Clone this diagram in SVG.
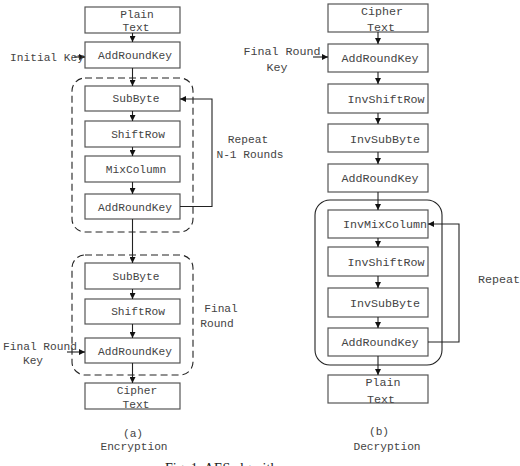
<svg xmlns="http://www.w3.org/2000/svg" width="520" height="466" viewBox="0 0 520 466">
<style>
.box{fill:#fff;stroke:#555;stroke-width:1.2}
.t{font-family:"Liberation Mono","Courier New",monospace;font-size:11.2px;fill:#444;text-anchor:middle}
.tr{font-size:11.7px}
.l{fill:none;stroke:#222;stroke-width:1.1}
.grp{fill:none;stroke:#222;stroke-width:1.1}
</style>
<defs>
<marker id="ah" viewBox="0 0 10 10" refX="10" refY="5" markerWidth="6" markerHeight="6" orient="auto" markerUnits="userSpaceOnUse">
<path d="M0,0 L10,5 L0,10 z" fill="#111"/>
</marker>
</defs>
<rect width="520" height="466" fill="#fff"/>

<!-- group frames -->
<g id="round-group">
<rect x="72" y="78" width="121" height="154" rx="13" class="grp" stroke-dasharray="7,4"/>
</g>
<g id="final-round-group">
<rect x="72" y="255" width="121" height="120" rx="13" class="grp" stroke-dasharray="7,4"/>
</g>
<g id="dec-round-group">
<rect x="315" y="200" width="127" height="165" rx="15" class="grp"/>
</g>

<!-- encryption nodes -->
<g id="enc-plain"><rect x="85" y="7" width="95" height="26" class="box"/><text class="t" x="137" y="18">Plain</text><text class="t" x="136" y="31">Text</text></g>
<g id="enc-ark0"><rect x="85" y="42" width="95" height="26" class="box"/><text class="t" x="135" y="59">AddRoundKey</text></g>
<g id="enc-sub"><rect x="85" y="86" width="95" height="25" class="box"/><text class="t" x="136" y="102">SubByte</text></g>
<g id="enc-shift"><rect x="85" y="121" width="95" height="26" class="box"/><text class="t" x="138" y="138">ShiftRow</text></g>
<g id="enc-mix"><rect x="85" y="156" width="95" height="26" class="box"/><text class="t" x="136" y="173">MixColumn</text></g>
<g id="enc-ark"><rect x="85" y="194" width="95" height="25" class="box"/><text class="t" x="135" y="211">AddRoundKey</text></g>
<g id="enc-sub2"><rect x="85" y="263" width="95" height="26" class="box"/><text class="t" x="136" y="280">SubByte</text></g>
<g id="enc-shift2"><rect x="85" y="299" width="95" height="25" class="box"/><text class="t" x="138" y="315">ShiftRow</text></g>
<g id="enc-ark2"><rect x="85" y="338" width="95" height="25" class="box"/><text class="t" x="135" y="355">AddRoundKey</text></g>
<g id="enc-cipher"><rect x="85" y="383" width="95" height="26" class="box"/><text class="t" x="137" y="394">Cipher</text><text class="t" x="136" y="408">Text</text></g>

<!-- decryption nodes -->
<g id="dec-cipher"><rect x="328" y="4" width="100" height="28" class="box"/><text class="t tr" x="382" y="15">Cipher</text><text class="t tr" x="381" y="31">Text</text></g>
<g id="dec-ark0"><rect x="328" y="44" width="100" height="28" class="box"/><text class="t tr" x="380" y="62">AddRoundKey</text></g>
<g id="dec-invshift"><rect x="328" y="84" width="100" height="29" class="box"/><text class="t tr" x="386" y="103">InvShiftRow</text></g>
<g id="dec-invsub"><rect x="328" y="124" width="100" height="28" class="box"/><text class="t tr" x="385" y="143">InvSubByte</text></g>
<g id="dec-ark1"><rect x="328" y="164" width="100" height="28" class="box"/><text class="t tr" x="380" y="182">AddRoundKey</text></g>
<g id="dec-invmix"><rect x="328" y="210" width="100" height="28" class="box"/><text class="t tr" x="385" y="228">InvMixColumn</text></g>
<g id="dec-invshift2"><rect x="328" y="247" width="100" height="29" class="box"/><text class="t tr" x="386" y="266">InvShiftRow</text></g>
<g id="dec-invsub2"><rect x="328" y="288" width="100" height="29" class="box"/><text class="t tr" x="385" y="307">InvSubByte</text></g>
<g id="dec-ark2"><rect x="328" y="328" width="100" height="28" class="box"/><text class="t tr" x="380" y="346">AddRoundKey</text></g>
<g id="dec-plain"><rect x="328" y="375" width="100" height="28" class="box"/><text class="t tr" x="383" y="386">Plain</text><text class="t tr" x="381" y="403">Text</text></g>

<!-- connectors -->
<g id="connectors">
<line class="l" x1="132.5" y1="33" x2="132.5" y2="42" marker-end="url(#ah)"/>
<line class="l" x1="132.5" y1="68" x2="132.5" y2="86" marker-end="url(#ah)"/>
<line class="l" x1="132.5" y1="111" x2="132.5" y2="121" marker-end="url(#ah)"/>
<line class="l" x1="132.5" y1="147" x2="132.5" y2="156" marker-end="url(#ah)"/>
<line class="l" x1="132.5" y1="182" x2="132.5" y2="194" marker-end="url(#ah)"/>
<line class="l" x1="132.5" y1="219" x2="132.5" y2="263" marker-end="url(#ah)"/>
<line class="l" x1="132.5" y1="289" x2="132.5" y2="299" marker-end="url(#ah)"/>
<line class="l" x1="132.5" y1="324" x2="132.5" y2="338" marker-end="url(#ah)"/>
<line class="l" x1="132.5" y1="363" x2="132.5" y2="383" marker-end="url(#ah)"/>
<polyline class="l" points="180,206.5 212,206.5 212,99 180,99" marker-end="url(#ah)"/>
<line class="l" x1="74" y1="57" x2="85" y2="57" marker-end="url(#ah)"/>
<line class="l" x1="67" y1="352" x2="85" y2="352" marker-end="url(#ah)"/>

<line class="l" x1="378" y1="32" x2="378" y2="44" marker-end="url(#ah)"/>
<line class="l" x1="378" y1="72" x2="378" y2="84" marker-end="url(#ah)"/>
<line class="l" x1="378" y1="113" x2="378" y2="124" marker-end="url(#ah)"/>
<line class="l" x1="378" y1="152" x2="378" y2="164" marker-end="url(#ah)"/>
<line class="l" x1="378" y1="192" x2="378" y2="210" marker-end="url(#ah)"/>
<line class="l" x1="378" y1="238" x2="378" y2="247" marker-end="url(#ah)"/>
<line class="l" x1="378" y1="276" x2="378" y2="288" marker-end="url(#ah)"/>
<line class="l" x1="378" y1="317" x2="378" y2="328" marker-end="url(#ah)"/>
<line class="l" x1="378" y1="356" x2="378" y2="375" marker-end="url(#ah)"/>
<polyline class="l" points="428,342 459,342 459,224 428,224" marker-end="url(#ah)"/>
<line class="l" x1="313" y1="57" x2="328" y2="57" marker-end="url(#ah)"/>
</g>

<!-- labels -->
<g id="labels">
<text class="t" x="47" y="61">Initial Key</text>
<text class="t" x="248" y="143">Repeat</text>
<text class="t" x="250" y="158">N-1 Rounds</text>
<text class="t" x="221" y="312">Final</text>
<text class="t" x="217" y="327">Round</text>
<text class="t" x="40" y="350">Final Round</text>
<text class="t" x="33" y="364">Key</text>
<text class="t" x="133" y="437">(a)</text>
<text class="t" x="134" y="450">Encryption</text>
<text class="t tr" x="282" y="55">Final Round</text>
<text class="t tr" x="277" y="71">Key</text>
<text class="t tr" x="499" y="283">Repeat</text>
<text class="t" x="379" y="435">(b)</text>
<text class="t" x="387" y="450">Decryption</text>
<text x="165" y="473" style="font-family:'Liberation Serif','Times New Roman',serif;font-size:14px;fill:#222">Fig. 1. AES algorithm</text>
</g>
</svg>
